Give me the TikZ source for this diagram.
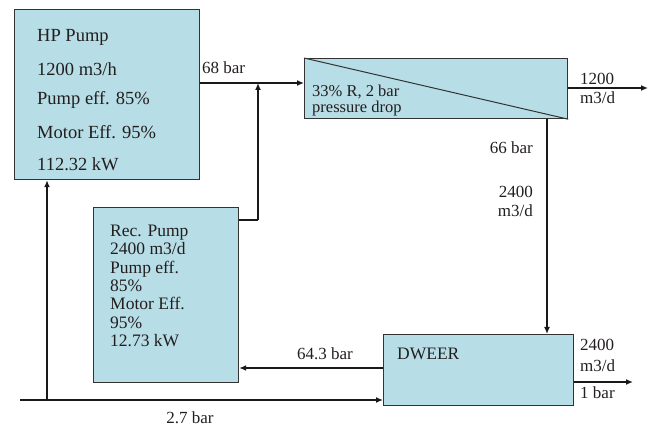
\documentclass[tikz,border=0pt]{standalone}
\usepackage{fontspec}
\setmainfont{Liberation Serif}
\usetikzlibrary{arrows.meta}
\definecolor{boxfill}{RGB}{183,221,230}
\definecolor{txt}{RGB}{35,30,30}
\tikzset{
  unit/.style={draw=black!80, line width=1.2pt, fill=boxfill, inner sep=0pt},
  flow/.style={line width=1.5pt, draw=black!90, -{Latex[length=7pt,width=6pt]}},
  pipe/.style={line width=1.5pt, draw=black!90},
  lbl/.style={text=txt, font=\fontsize{17}{19}\selectfont, inner sep=0pt},
  btxt/.style={text=txt, inner sep=0pt, anchor=west, align=left},
}
\begin{document}
\begin{tikzpicture}[x=1pt,y=-1pt]
\useasboundingbox (0,0) rectangle (659,427);
% boxes
\node[unit, minimum width=185pt, minimum height=170pt, anchor=north west] (hp) at (14,9) {};
\node[unit, minimum width=263pt, minimum height=60pt, anchor=north west] (mem) at (304,58) {};
\node[unit, minimum width=145pt, minimum height=175pt, anchor=north west] (rec) at (93,207) {};
\node[unit, minimum width=190pt, minimum height=71pt, anchor=north west] (dw) at (383,334) {};
\draw[line width=1pt, draw=black!80] (mem.north west) -- (mem.south east);
% box texts
\begin{scope}[every node/.style={btxt, font=\fontsize{18.5}{21}\selectfont}]
\node (t1) at (37,37) {HP Pump};
\node (t2) at (37,69) {1200 m3/h};
\node (t3) at (37,100) {Pump eff. 85\%};
\node (t4) at (37,132) {Motor Eff. 95\%};
\node (t5) at (37,164) {112.32 kW};
\end{scope}
\node[btxt, font=\fontsize{17.5}{18.3}\selectfont, anchor=north west] (rt) at (110,225) {Rec. Pump\\2400 m3/d\\Pump eff.\\85\%\\Motor Eff.\\95\%\\12.73 kW};
\node[btxt, font=\fontsize{16.5}{18}\selectfont] (mt1) at (312,92) {33\% R, 2 bar};
\node[btxt, font=\fontsize{16.5}{18}\selectfont] (mt2) at (312,109) {pressure drop};
\node[btxt, font=\fontsize{17.5}{20}\selectfont] (dt) at (397,354) {DWEER};
% coordinates
\coordinate (j1) at (258,83);
\coordinate (rout) at (258,220);
\coordinate (feed) at (20,400);
\coordinate (fj) at (47,400);
\coordinate (pout) at (648,88);
\coordinate (bout) at (633,382);
% connectors
\draw[flow] (hp.east |- j1) -- (mem.west |- j1);
\draw[pipe] (rec.east |- rout) -- (rout);
\draw[flow] (rout) -- (j1);
\draw[flow] (feed) -- (dw.west |- feed);
\draw[flow] (fj) -- (hp.south -| fj);
\draw[flow] (dw.west |- 0,368) -- (rec.east |- 0,368);
\draw[flow] (mem.south -| 547,0) -- (dw.north -| 547,0);
\draw[flow] (mem.east |- pout) -- (pout);
\draw[flow] (dw.east |- bout) -- (bout);
% labels
\node[lbl, anchor=west] (l68) at (202,68) {68 bar};
\node[lbl, anchor=east] (l66) at (533,148) {66 bar};
\node[lbl, anchor=east, align=right] (l2400) at (533,201) {2400\\m3/d};
\node[lbl] (l643) at (325,354) {64.3 bar};
\node[lbl] (l27) at (190,418) {2.7 bar};
\node[lbl, anchor=west, align=left] (lp) at (580,88) {1200\\m3/d};
\node[lbl, anchor=west] (lb1) at (580,345) {2400};
\node[lbl, anchor=west] (lb2) at (580,366) {m3/d};
\node[lbl, anchor=west] (lb3) at (580,393) {1 bar};
\end{tikzpicture}
\end{document}
